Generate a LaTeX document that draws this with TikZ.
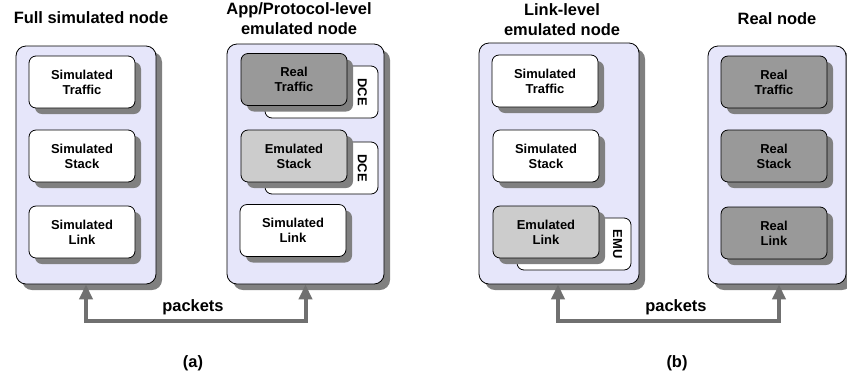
\documentclass[tikz,border=0pt]{standalone}
\usepackage{fontspec}
\setmainfont{Liberation Sans}
\usepackage{tikz}
\usetikzlibrary{positioning, arrows.meta, shadows}

\definecolor{panelfill}{RGB}{230,230,250}
\definecolor{realgray}{RGB}{153,153,153}
\definecolor{emugray}{RGB}{204,204,204}
\definecolor{shadowgray}{RGB}{128,128,128}
\definecolor{pktgray}{RGB}{112,112,112}

\tikzset{
    boxshadow/.style={drop shadow={shadow xshift=6bp, shadow yshift=-6bp, fill=shadowgray, opacity=1}},
    panel/.style={draw, thick, rounded corners=10bp, fill=panelfill, boxshadow, minimum width=#1},
    layer/.style={draw, thick, rounded corners=7bp, fill=white, boxshadow, minimum width=106bp, minimum height=52bp,
        align=center, font=\fontsize{13}{15}\selectfont\bfseries},
    reallayer/.style={layer, fill=realgray},
    emulayer/.style={layer, fill=emugray},
    backbox/.style={draw, thick, rounded corners=7bp, fill=white, minimum width=113bp, minimum height=52bp},
    backtext/.style={rotate=-90, font=\fontsize{13}{15}\selectfont\bfseries},
    title/.style={align=center, font=\fontsize{16.5}{20}\selectfont\bfseries},
    pkt/.style={draw=pktgray, line width=4bp, {Triangle[length=15bp, width=13bp]}-{Triangle[length=15bp, width=13bp]}}
}

\begin{document}
\begin{tikzpicture}[x=1bp, y=-1bp]
    \useasboundingbox (0,0) rectangle (847,377);

    \node[panel=140bp, minimum height=238bp] (full) at (86,165) {};
    \node[layer] (fullTraffic) at (82,82) {Simulated\\Traffic};
    \node[layer] (fullStack) at (82,156) {Simulated\\Stack};
    \node[layer] (fullLink) at (82,232) {Simulated\\Link};
    \node[title] (fullTitle) at (91,18) {Full simulated node};

    \node[panel=157bp, minimum height=240bp] (app) at (305.5,164) {};
    \node[backbox] (dceA) at (321.5,92) {};
    \node[backtext] (dceAtext) at ([xshift=-16bp]dceA.east) {DCE};
    \node[reallayer] (appTraffic) at (294,79.5) {Real\\Traffic};
    \node[backbox] (dceB) at (321.5,168) {};
    \node[backtext] (dceBtext) at ([xshift=-16bp]dceB.east) {DCE};
    \node[emulayer] (appStack) at (294,156) {Emulated\\Stack};
    \node[layer] (appLink) at (293,230.5) {Simulated\\Link};
    \node[title] (appTitle) at (299,19) {App/Protocol-level\\emulated node};

    \node[panel=160bp, minimum height=241bp] (lnk) at (559,163.5) {};
    \node[layer] (lnkTraffic) at (545,81) {Simulated\\Traffic};
    \node[layer] (lnkStack) at (546,156) {Simulated\\Stack};
    \node[backbox, minimum width=114bp] (emu) at (574,244) {};
    \node[backtext] (emutext) at ([xshift=-14bp]emu.east) {EMU};
    \node[emulayer] (lnkLink) at (546,232) {Emulated\\Link};
    \node[title] (lnkTitle) at (562,20) {Link-level\\emulated node};

    \node[panel=138bp, minimum height=238bp] (real) at (777,165) {};
    \node[reallayer] (realTraffic) at (774,82) {Real\\Traffic};
    \node[reallayer] (realStack) at (774,156) {Real\\Stack};
    \node[reallayer] (realLink) at (774,233) {Real\\Link};
    \node[title] (realTitle) at (777,19) {Real node};

    \coordinate (baseA) at (86,321);
    \coordinate (baseB) at (558,321);
    \draw[pkt] (full.south) -- (baseA) -| (app.south);
    \draw[pkt] ([xshift=-1bp]lnk.south) -- (baseB) -| ([xshift=2bp]real.south);
    \node[title] (pktA) at (193,307) {packets};
    \node[title] (pktB) at (676,307) {packets};

    \node[title] (capA) at (193,363) {(a)};
    \node[title] (capB) at (677,363) {(b)};
\end{tikzpicture}
\end{document}
